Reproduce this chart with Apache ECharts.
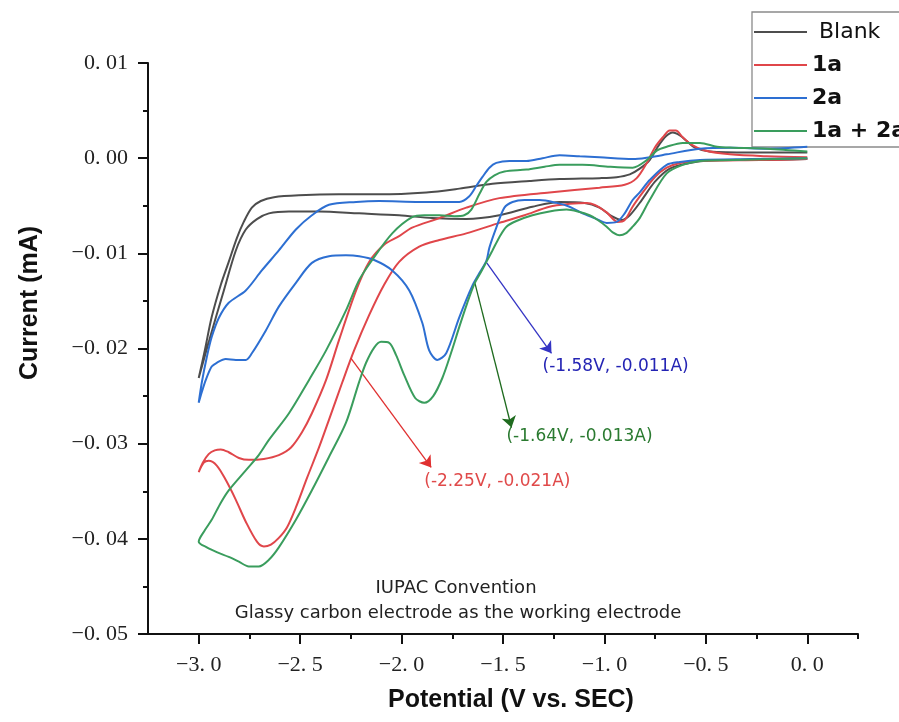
<!DOCTYPE html>
<html><head><meta charset="utf-8">
<script src="https://cdn.jsdelivr.net/npm/echarts@6/dist/echarts.min.js"></script>
<style>html,body{margin:0;padding:0;background:#fff}#c{width:899px;height:722px}</style>
</head><body><div id="c"></div>
<script>
// Series names
const seriesNames = ['Blank', '1a', '2a', '1a + 2a'];
const seriesColors = ['#4d4d4d', '#e0464a', '#2d6fd2', '#3a9d5d'];

// [Potential (V), Current] — cathodic sweep from 0 V to -3 V, then return sweep
const blankData = [[0.0,-0.0001],[-0.233,-0.0002],[-0.431,-0.0002],[-0.579,-0.0005],[-0.678,-0.0011],[-0.752,-0.0025],[-0.816,-0.0044],[-0.875,-0.0060],[-0.915,-0.0065],[-0.964,-0.0061],[-1.024,-0.0052],[-1.098,-0.0047],[-1.221,-0.0046],[-1.355,-0.0051],[-1.518,-0.0060],[-1.681,-0.0064],[-1.849,-0.0063],[-2.012,-0.0060],[-2.209,-0.0058],[-2.407,-0.0056],[-2.555,-0.0056],[-2.654,-0.0058],[-2.713,-0.0064],[-2.768,-0.0075],[-2.817,-0.0097],[-2.876,-0.0139],[-2.941,-0.0186],[-3.0,-0.0231],
[-2.970,-0.0202],[-2.936,-0.0167],[-2.891,-0.0133],[-2.852,-0.0109],[-2.812,-0.0084],[-2.778,-0.0067],[-2.738,-0.0052],[-2.694,-0.0045],[-2.629,-0.0041],[-2.506,-0.0039],[-2.308,-0.0038],[-2.111,-0.0038],[-1.878,-0.0036],[-1.715,-0.0032],[-1.552,-0.0027],[-1.369,-0.0024],[-1.221,-0.0022],[-1.024,-0.0021],[-0.940,-0.0020],[-0.875,-0.0017],[-0.826,-0.0011],[-0.777,-0.0002],[-0.737,0.0012],[-0.697,0.0023],[-0.663,0.0027],[-0.628,0.0024],[-0.594,0.0018],[-0.554,0.0011],[-0.480,0.0007],[-0.282,0.0006],[0.0,0.0006]];

const data1a = [[0.0,-0.0001],[-0.233,-0.0002],[-0.529,-0.0003],[-0.628,-0.0005],[-0.693,-0.0010],[-0.752,-0.0020],[-0.811,-0.0036],[-0.861,-0.0051],[-0.900,-0.0065],[-0.935,-0.0067],[-0.989,-0.0057],[-1.048,-0.0049],[-1.088,-0.0047],[-1.172,-0.0048],[-1.271,-0.0051],[-1.394,-0.0060],[-1.518,-0.0068],[-1.681,-0.0079],[-1.814,-0.0086],[-1.913,-0.0093],[-2.012,-0.0109],[-2.086,-0.0133],[-2.160,-0.0165],[-2.234,-0.0202],[-2.293,-0.0236],[-2.358,-0.0275],[-2.407,-0.0304],[-2.466,-0.0336],[-2.521,-0.0367],[-2.565,-0.0388],[-2.605,-0.0399],[-2.644,-0.0406],[-2.679,-0.0408],[-2.713,-0.0403],[-2.768,-0.0382],[-2.817,-0.0359],[-2.867,-0.0338],[-2.911,-0.0323],[-2.951,-0.0318],[-2.975,-0.0320],[-3.0,-0.0330],
[-2.980,-0.0320],[-2.951,-0.0311],[-2.921,-0.0307],[-2.891,-0.0306],[-2.852,-0.0309],[-2.802,-0.0315],[-2.753,-0.0317],[-2.679,-0.0316],[-2.605,-0.0312],[-2.545,-0.0304],[-2.491,-0.0288],[-2.442,-0.0268],[-2.372,-0.0233],[-2.308,-0.0191],[-2.224,-0.0139],[-2.160,-0.0109],[-2.086,-0.0091],[-2.012,-0.0082],[-1.948,-0.0073],[-1.814,-0.0063],[-1.681,-0.0052],[-1.518,-0.0042],[-1.271,-0.0036],[-1.024,-0.0031],[-0.900,-0.0028],[-0.841,-0.0021],[-0.791,-0.0005],[-0.752,0.0011],[-0.712,0.0022],[-0.678,0.0029],[-0.648,0.0029],[-0.614,0.0022],[-0.569,0.0014],[-0.505,0.0008],[-0.381,0.0004],[-0.198,0.0002],[0.0,0.0001]];

const data2a = [[0.0,0.0],[-0.282,-0.0001],[-0.529,-0.0002],[-0.628,-0.0004],[-0.693,-0.0007],[-0.777,-0.0023],[-0.826,-0.0036],[-0.861,-0.0044],[-0.900,-0.0058],[-0.940,-0.0067],[-0.989,-0.0068],[-1.048,-0.0063],[-1.108,-0.0058],[-1.172,-0.0051],[-1.236,-0.0047],[-1.320,-0.0044],[-1.394,-0.0044],[-1.453,-0.0046],[-1.493,-0.0052],[-1.533,-0.0073],[-1.567,-0.0094],[-1.582,-0.0108],[-1.617,-0.0121],[-1.651,-0.0134],[-1.715,-0.0167],[-1.780,-0.0205],[-1.824,-0.0212],[-1.864,-0.0202],[-1.898,-0.0173],[-1.962,-0.0139],[-2.046,-0.0118],[-2.135,-0.0107],[-2.209,-0.0103],[-2.274,-0.0102],[-2.358,-0.0103],[-2.442,-0.0110],[-2.521,-0.0131],[-2.605,-0.0156],[-2.669,-0.0181],[-2.738,-0.0205],[-2.768,-0.0212],[-2.817,-0.0212],[-2.867,-0.0211],[-2.911,-0.0215],[-2.936,-0.0219],[-2.965,-0.0233],[-2.985,-0.0246],[-3.0,-0.0257],
[-2.985,-0.0236],[-2.960,-0.0209],[-2.936,-0.0188],[-2.901,-0.0168],[-2.852,-0.0152],[-2.768,-0.0139],[-2.689,-0.0118],[-2.605,-0.0097],[-2.521,-0.0075],[-2.442,-0.0060],[-2.358,-0.0049],[-2.224,-0.0046],[-2.111,-0.0045],[-1.913,-0.0046],[-1.715,-0.0046],[-1.666,-0.0040],[-1.631,-0.0029],[-1.602,-0.0020],[-1.567,-0.0010],[-1.533,-0.0005],[-1.468,-0.0003],[-1.384,-0.0003],[-1.305,0.0000],[-1.221,0.0003],[-1.122,0.0002],[-1.024,0.0001],[-0.861,-0.0001],[-0.777,0.0001],[-0.693,0.0004],[-0.529,0.0010],[-0.366,0.0011],[-0.198,0.0010],[0.0,0.0012]];

const data1a2a = [[0.0,0.0],[-0.366,-0.0002],[-0.529,-0.0003],[-0.614,-0.0007],[-0.693,-0.0016],[-0.777,-0.0044],[-0.826,-0.0063],[-0.861,-0.0072],[-0.895,-0.0079],[-0.925,-0.0081],[-0.959,-0.0078],[-0.989,-0.0072],[-1.033,-0.0065],[-1.073,-0.0060],[-1.132,-0.0056],[-1.187,-0.0054],[-1.271,-0.0056],[-1.355,-0.0060],[-1.434,-0.0066],[-1.483,-0.0072],[-1.518,-0.0083],[-1.552,-0.0097],[-1.582,-0.0109],[-1.612,-0.0121],[-1.641,-0.0132],[-1.676,-0.0152],[-1.715,-0.0177],[-1.755,-0.0204],[-1.799,-0.0231],[-1.844,-0.0250],[-1.888,-0.0257],[-1.933,-0.0252],[-1.987,-0.0228],[-2.027,-0.0207],[-2.061,-0.0194],[-2.101,-0.0193],[-2.135,-0.0199],[-2.175,-0.0215],[-2.209,-0.0235],[-2.274,-0.0278],[-2.358,-0.0314],[-2.442,-0.0349],[-2.521,-0.0380],[-2.605,-0.0409],[-2.654,-0.0422],[-2.704,-0.0429],[-2.753,-0.0429],[-2.802,-0.0424],[-2.852,-0.0419],[-2.911,-0.0414],[-2.960,-0.0409],[-3.0,-0.0403],
[-2.970,-0.0391],[-2.936,-0.0380],[-2.891,-0.0362],[-2.852,-0.0349],[-2.768,-0.0328],[-2.704,-0.0312],[-2.654,-0.0296],[-2.555,-0.0268],[-2.456,-0.0233],[-2.372,-0.0202],[-2.274,-0.0160],[-2.209,-0.0128],[-2.145,-0.0107],[-2.046,-0.0079],[-1.948,-0.0062],[-1.888,-0.0060],[-1.814,-0.0060],[-1.740,-0.0061],[-1.691,-0.0060],[-1.656,-0.0054],[-1.617,-0.0038],[-1.582,-0.0025],[-1.542,-0.0018],[-1.493,-0.0014],[-1.384,-0.0012],[-1.295,-0.0009],[-1.221,-0.0007],[-1.108,-0.0007],[-0.974,-0.0009],[-0.861,-0.0010],[-0.791,-0.0002],[-0.742,0.0008],[-0.693,0.0012],[-0.614,0.0016],[-0.529,0.0016],[-0.445,0.0012],[-0.366,0.0011],[-0.198,0.0010],[0.0,0.0007]];

// Axis ticks
const xMajorTicks = [-3, -2.5, -2, -1.5, -1, -0.5, 0];
const xMinorTicks = [-2.75, -2.25, -1.75, -1.25, -0.75, -0.25, 0.25];

// Annotations: series index, label, arrow start, arrow end, text anchor
const annoSeries = [2, 3, 1];
const annoText = ['(-1.58V, -0.011A)', '(-1.64V, -0.013A)', '(-2.25V, -0.021A)'];
const annoFrom = [[-1.58, -0.011], [-1.64, -0.013], [-2.25, -0.021]];
const annoTo = [[-1.261, -0.0205], [-1.458, -0.0283], [-1.854, -0.0325]];
const annoTextAt = [[-1.305, -0.0219], [-1.483, -0.0293], [-1.888, -0.0340]];
const annoTextColor = ['#2424b4', '#2a7a30', '#e04a4a'];
const annoArrowColor = ['#3434c4', '#1f6b1f', '#e03030'];

const fmt = (v, d) => {
  if (Math.abs(v) < 1e-9) v = 0;
  return v.toFixed(d).replace('-', '\u2212').replace('.', '. ');
};

const chart = echarts.init(document.getElementById('c'));
const allData = [blankData, data1a, data2a, data1a2a];

const series = allData.map((d, k) => {
  const s = {
    name: seriesNames[k], type: 'line', data: d, xAxisIndex: 0, yAxisIndex: 0,
    symbol: 'none', smooth: 0.3, lineStyle: { width: 2, color: seriesColors[k] },
    itemStyle: { color: seriesColors[k] }, z: 2 + k
  };
  const ai = annoSeries.indexOf(k);
  if (ai >= 0) {
    s.markLine = {
      silent: true, animation: false, symbol: ['none', 'arrow'], symbolSize: 11,
      label: { show: false },
      lineStyle: { color: annoArrowColor[ai], width: 1.3, type: 'solid' },
      data: [[{ coord: annoFrom[ai] }, { coord: annoTo[ai] }]]
    };
  }
  return s;
});

const option = {
  animation: false,
  backgroundColor: '#fff',
  grid: { left: 148, right: 41, top: 63, bottom: 88 },
  legend: {
    orient: 'vertical', left: 752, top: 12,
    padding: [7, 40, 3, 2], itemGap: 7, itemWidth: 53, itemHeight: 2, icon: 'rect',
    borderColor: '#8a8a8a', borderWidth: 1.3, borderRadius: 0,
    formatter: n => n === 'Blank' ? ' Blank' : n,
    textStyle: { fontFamily: 'DejaVu Sans', fontSize: 22, color: '#111', lineHeight: 26 },
    data: seriesNames.map((n, k) => ({ name: n, textStyle: { fontWeight: k === 0 ? 'normal' : 'bold' } }))
  },
  xAxis: [{
    type: 'value', min: -3.25, max: 0.25, interval: 0.25,
    axisLine: { show: true, onZero: false, lineStyle: { color: '#111', width: 2 } },
    axisTick: { show: true, length: 10, customValues: xMajorTicks, lineStyle: { color: '#111', width: 2 } },
    axisLabel: { customValues: xMajorTicks, margin: 20, formatter: v => fmt(v, 1),
      fontFamily: 'Liberation Serif', fontSize: 22, color: '#222' },
    splitLine: { show: false }
  }, {
    type: 'value', min: -3.25, max: 0.25, interval: 0.25, position: 'bottom',
    axisLine: { show: false, onZero: false },
    axisTick: { show: true, length: 5, customValues: xMinorTicks, lineStyle: { color: '#111', width: 2 } },
    axisLabel: { show: false },
    splitLine: { show: false }
  }],
  yAxis: {
    type: 'value', min: -0.05, max: 0.01, interval: 0.01,
    axisLine: { show: true, onZero: false, lineStyle: { color: '#111', width: 2 } },
    axisTick: { show: true, length: 10, lineStyle: { color: '#111', width: 2 } },
    minorTick: { show: true, splitNumber: 2, length: 5, lineStyle: { color: '#111', width: 2 } },
    axisLabel: { margin: 20, formatter: v => fmt(v, 2),
      fontFamily: 'Liberation Serif', fontSize: 22, color: '#222' },
    splitLine: { show: false }, minorSplitLine: { show: false }
  },
  series: series
};

chart.setOption(option);

const graphics = [
  { type: 'text', x: 511, y: 700, style: { text: 'Potential (V vs. SEC)', font: 'bold 25px "Liberation Sans"', fill: '#111', textAlign: 'center', textVerticalAlign: 'middle' } },
  { type: 'text', x: 30, y: 303, rotation: Math.PI / 2, style: { text: 'Current (mA)', font: 'bold 25px "Liberation Sans"', fill: '#111', textAlign: 'center', textVerticalAlign: 'middle' } },
  { type: 'text', x: 456, y: 588, style: { text: 'IUPAC Convention', font: '18px "DejaVu Sans"', fill: '#222', textAlign: 'center', textVerticalAlign: 'middle' } },
  { type: 'text', x: 458, y: 613, style: { text: 'Glassy carbon electrode as the working electrode', font: '18px "DejaVu Sans"', fill: '#222', textAlign: 'center', textVerticalAlign: 'middle' } }
];
annoText.forEach((t, k) => {
  const p = chart.convertToPixel({ xAxisIndex: 0, yAxisIndex: 0 }, annoTextAt[k]);
  graphics.push({ type: 'text', x: p[0], y: p[1], style: { text: t, font: '17px "DejaVu Sans"', fill: annoTextColor[k], textAlign: 'left', textVerticalAlign: 'middle' } });
});
chart.setOption({ graphic: graphics });
</script>
</body></html>
